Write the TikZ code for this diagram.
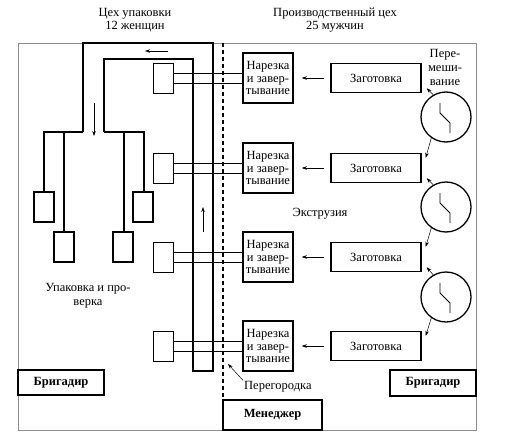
\documentclass[tikz,border=0pt]{standalone}
\usepackage{fontspec}
\setmainfont{Liberation Serif}
\usepackage{tikz}
\usetikzlibrary{arrows.meta,positioning,calc}

\begin{document}
\begin{tikzpicture}[x=1pt,y=-1pt,font=\rmfamily\fontsize{12.5}{12.5}\selectfont,
  cutbox/.style={draw,line width=1.5pt,minimum width=50pt,minimum height=50pt,inner sep=0pt,align=center},
  blankbox/.style={draw,line width=1.5pt,minimum width=90pt,minimum height=29pt,inner sep=0pt},
  feedbox/.style={draw,line width=0.6pt,minimum width=20pt,minimum height=30pt,inner sep=0pt},
  packbox/.style={draw,line width=1.3pt,minimum width=20pt,minimum height=30pt,inner sep=0pt},
  bossbox/.style={draw,line width=1.6pt,inner sep=0pt,font=\rmfamily\fontsize{12.5}{12.5}\selectfont\bfseries},
  mixer/.style={draw,circle,line width=1.3pt,minimum size=50pt,inner sep=0pt},
  flow/.style={-{Stealth[length=5pt,width=3.5pt]},line width=0.5pt},
  belt/.style={line width=1.2pt}]
\useasboundingbox (0,0) rectangle (505,441);
\draw[black!45,line width=0.8pt] (18,43) rectangle (476,430);
\draw[dashed,line width=1.1pt,dash pattern=on 4pt off 3pt] (223,43) -- (223,400);

\node[align=center,font=\rmfamily\fontsize{12.5}{13}\selectfont] (packhall) at (135,20) {Цех упаковки\\12 женщин};
\node[align=center,font=\rmfamily\fontsize{12.5}{13}\selectfont] (prodhall) at (335,20) {Производственный цех\\25 мужчин};

\foreach \i/\y in {1/78,2/168,3/257,4/346}{
  \node[cutbox] (cut\i) at (268,\y) {Нарезка\\и завер-\\тывание};
  \node[blankbox] (blank\i) at (376,\y) {Заготовка};
  \node[feedbox] (feed\i) at (163,\y) {};
  \draw[flow] (blank\i.west) ++(-6,0) -- ([xshift=8pt]cut\i.east);
  \draw[line width=0.8pt] ([yshift=5pt]feed\i.east) -- ([yshift=5pt]cut\i.west);
  \draw[line width=0.8pt] ([yshift=-5pt]feed\i.east) -- ([yshift=-5pt]cut\i.west);
}

\foreach \i/\y in {1/117,2/207,3/297}{
  \node[mixer] (mix\i) at (446,\y) {};
  \draw[line width=0.8pt] ($(mix\i)+(-6,-14)$) -- ++(0,10) -- ++(10,10) -- ++(0,10);
}
\foreach \i/\j in {1/2,2/3,3/4}{
  \draw[flow] (mix\i.120) -- ($(blank\i.south east)+(5,-5)$);
  \draw[flow] (mix\i.235) -- ($(blank\j.north east)+(4,5)$);
}
\node[align=center,font=\rmfamily\fontsize{12.5}{14}\selectfont] (mixlabel) at (445,67) {Пере-\\меши-\\вание};
\node (extr) at (320,214) {Экструзия};

\draw[belt] (83,132) -- (83,43) -- (213,43) -- (213,371) -- (193,371) -- (193,59) -- (104,59) -- (104,132);
\draw[belt] (83,132) -- (44,132) -- (44,192);
\draw[belt] (64,132) -- (64,232);
\draw[belt] (104,132) -- (144,132) -- (144,192);
\draw[belt] (124,132) -- (124,232);
\node[packbox] (pack1) at (44,207) {};
\node[packbox] (pack2) at (64,247) {};
\node[packbox] (pack3) at (143,207) {};
\node[packbox] (pack4) at (123,247) {};
\draw[flow] (168,51) -- (145,51);
\draw[flow] (94,103) -- (94,136);
\draw[flow] (203,232) -- (203,207);
\node[align=center,font=\rmfamily\fontsize{12.5}{14}\selectfont] (packlabel) at (88,296) {Упаковка и про-\\верка};

\node[bossbox,minimum width=86pt,minimum height=25pt] (boss1) at (61,382.5) {Бригадир};
\node[bossbox,minimum width=86pt,minimum height=26pt] (boss2) at (433,383) {Бригадир};
\node[bossbox,minimum width=99pt,minimum height=30pt] (manager) at (272.5,415) {Менеджер};

\node[anchor=west,inner sep=1pt] (wall) at (243,387) {Перегородка};
\coordinate (wallpt) at (228,364);
\draw[flow] (wall.north west) -- (wallpt);
\end{tikzpicture}
\end{document}
